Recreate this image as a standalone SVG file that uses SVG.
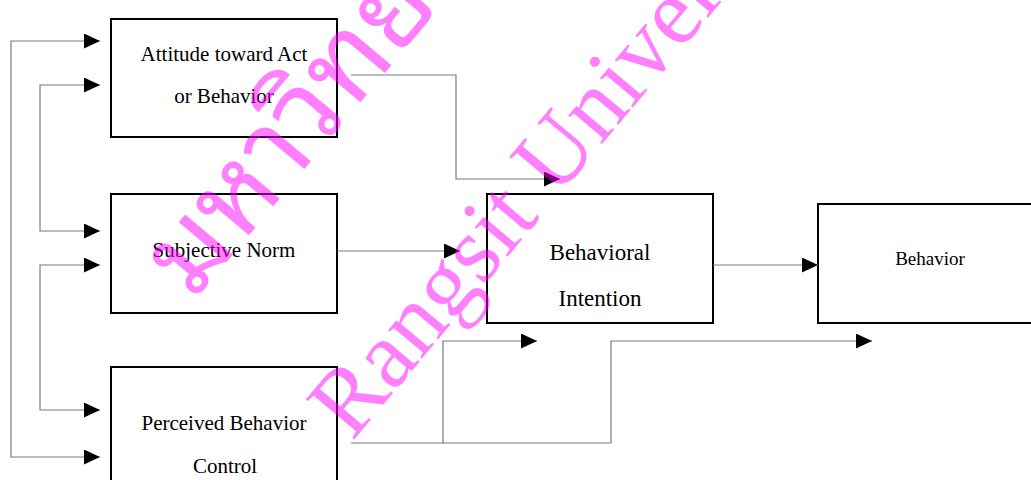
<svg xmlns="http://www.w3.org/2000/svg" width="1031" height="480" viewBox="0 0 1031 480">
  <style>
    .box { fill: #ffffff; stroke: #000000; stroke-width: 2; }
    .lbl { font-family: 'Liberation Serif', 'Times New Roman', serif; fill: #000000; text-anchor: middle; }
    .wire { fill: none; stroke: #7a7a7a; stroke-width: 1.2; }
    .mark { font-family: 'Liberation Serif', 'Times New Roman', serif; fill: #ff00ff; fill-opacity: 0.5; }
    .mark-th { font-family: 'Noto Sans Thai Looped', 'Noto Sans Thai', sans-serif; fill: #ff00ff; fill-opacity: 0.5; }
  </style>
  <defs>
    <marker id="arrow" markerUnits="userSpaceOnUse" markerWidth="16" markerHeight="15" refX="16" refY="7.5" orient="auto-start-reverse">
      <path d="M0,0 L16,7.5 L0,15 Z" fill="#000000"/>
    </marker>
  </defs>
  <rect width="1031" height="480" fill="#ffffff"/>

  <g id="attitude">
    <rect class="box" x="111" y="19" width="226" height="118"/>
    <text class="lbl" x="224" y="61" font-size="21">Attitude toward Act</text>
    <text class="lbl" x="224" y="103" font-size="21">or Behavior</text>
  </g>
  <g id="subjective-norm">
    <rect class="box" x="111" y="194" width="226" height="119"/>
    <text class="lbl" x="224" y="257" font-size="21">Subjective Norm</text>
  </g>
  <g id="perceived-control">
    <rect class="box" x="111" y="367" width="226" height="120"/>
    <text class="lbl" x="224" y="430" font-size="21">Perceived Behavior</text>
    <text class="lbl" x="225" y="473" font-size="21">Control</text>
  </g>
  <g id="intention">
    <rect class="box" x="487" y="194" width="226" height="129"/>
    <text class="lbl" x="600" y="260" font-size="23">Behavioral</text>
    <text class="lbl" x="600" y="306" font-size="23">Intention</text>
  </g>
  <g id="behavior">
    <rect class="box" x="818" y="204" width="222" height="119"/>
    <text class="lbl" x="930" y="265" font-size="19">Behavior</text>
  </g>

  <g id="connectors">
    <path class="wire" d="M100,41 H11 V457 H100" marker-start="url(#arrow)" marker-end="url(#arrow)"/>
    <path class="wire" d="M100,85 H40 V231 H100" marker-start="url(#arrow)" marker-end="url(#arrow)"/>
    <path class="wire" d="M100,265 H40 V410 H100" marker-start="url(#arrow)" marker-end="url(#arrow)"/>
    <path class="wire" d="M351,75 H456 V179 H560" marker-end="url(#arrow)"/>
    <path class="wire" d="M337,251 H460" marker-end="url(#arrow)"/>
    <path class="wire" d="M713,265 H818" marker-end="url(#arrow)"/>
    <path class="wire" d="M351,443 H443 V341 H537" marker-end="url(#arrow)"/>
    <path class="wire" d="M443,443 H611 V341 H872" marker-end="url(#arrow)"/>
  </g>

  <!-- translucent diagonal watermark over the figure -->
  <g id="watermark" transform="translate(352,442) rotate(-50)">
    <text class="mark-th" x="6" y="-212" font-size="112">มหาวิทยาลัยรังสิต</text>
    <text class="mark" x="0" y="0" font-size="96">Rangsit University</text>
  </g>
</svg>
